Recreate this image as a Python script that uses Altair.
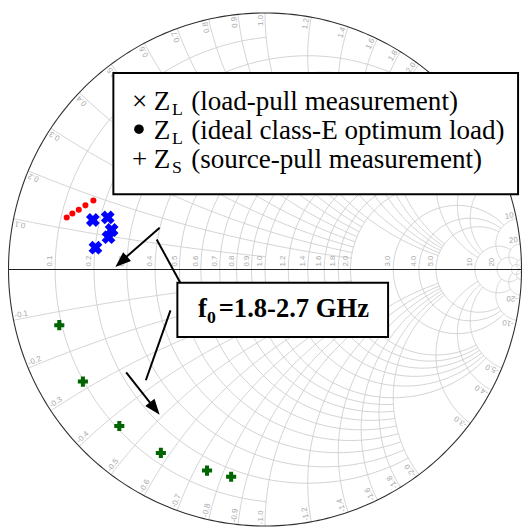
import altair as alt
import numpy as np
import pandas as pd

# ---------------- values ----------------
# Smith-chart grid values (normalised r and x) and how far each circle / arc reaches
grid_values = [0.1, 0.2, 0.3, 0.4, 0.5, 0.6, 0.7, 0.8, 0.9, 1.0,
               1.2, 1.4, 1.6, 1.8, 2.0, 3.0, 4.0, 5.0, 10.0, 20.0, 50.0]
grid_reach = [1, 2, 2, 2, 2, 2, 2, 2, 2, 5,
              5, 5, 5, 5, 5, 10, 10, 10, 20, 50, np.inf]
grid_labels = ["0.1", "0.2", "0.3", "0.4", "0.5", "0.6", "0.7", "0.8", "0.9", "1.0",
               "1.2", "1.4", "1.6", "1.8", "2.0", "3.0", "4.0", "5.0", "10", "20", ""]

# reflection coefficients (real, imaginary)
load_pull_re = [-0.671, -0.613, -0.598, -0.610, -0.661]
load_pull_im = [0.193, 0.203, 0.154, 0.126, 0.085]
ideal_re = [-0.773, -0.751, -0.726, -0.700, -0.669]
ideal_im = [0.203, 0.218, 0.233, 0.250, 0.269]
source_re = [-0.802, -0.710, -0.568, -0.406, -0.226, -0.132]
source_im = [-0.217, -0.437, -0.610, -0.715, -0.784, -0.808]

legend_lines = ["(load-pull measurement)", "(ideal class-E optimum load)",
                "(source-pull measurement)"]
freq_text = "=1.8-2.7 GHz"

# ---------------- geometry ----------------
CX, CY, R = 269.0, 269.5, 260.5   # page pixels of the chart centre / radius
W = H = 522


def gx(px):
    return (px - CX) / R


def gy(py):
    return (CY - py) / R


xs = alt.Scale(domain=[gx(8), gx(8 + W)], nice=False, zero=False)
ys = alt.Scale(domain=[gy(8 + H), gy(8)], nice=False, zero=False)
X = alt.X("re:Q", scale=xs, axis=None)
Y = alt.Y("im:Q", scale=ys, axis=None)

# ---------------- grid ----------------
rows = []
gid = 0
N = 120


def add(re, im):
    global gid
    for i, (a, b) in enumerate(zip(re, im)):
        rows.append({"id": gid, "i": i, "re": float(a), "im": float(b)})
    gid += 1


for v, lim in zip(grid_values, grid_reach):
    bmax = np.pi / 2 * 0.9999 if np.isinf(lim) else np.arctan(lim / (v + 1))
    beta = np.linspace(-bmax, bmax, N)
    phi = np.pi - 2 * beta
    c, rho = v / (1 + v), 1 / (1 + v)
    add(c + rho * np.cos(phi), rho * np.sin(phi))
    for s in (1, -1):
        xv = s * v
        a0 = np.arctan(xv)
        a1 = 0.0 if np.isinf(lim) else np.arctan(xv / (lim + 1))
        al = np.linspace(a0, a1, N)
        g = 1 + 1j / xv - (1j / xv) * np.exp(-2j * al)
        add(g.real, g.imag)

grid_df = pd.DataFrame(rows)
t = np.linspace(0, 2 * np.pi, 361)
bound_df = pd.DataFrame({"re": np.cos(t), "im": np.sin(t), "i": np.arange(361)})
axis_df = pd.DataFrame({"re": [-1.0, 1.0], "im": [0.0, 0.0], "i": [0, 1]})

# ---------------- grid labels ----------------
rlab = []
top_lab, bot_lab = [], []
for v, lbl in zip(grid_values, grid_labels):
    if not lbl:
        continue
    rlab.append({"re": (v - 1) / (v + 1) - 1.0 / R, "im": 3.0 / R, "text": lbl})
    for s in (1, -1):
        xv = s * v
        g = (1j * xv - 1) / (1j * xv + 1)
        th = np.degrees(np.angle(g))
        p = g * (1 - 2.0 / R)
        if s > 0:
            top_lab.append({"re": p.real, "im": p.imag, "text": lbl, "a": (360 - th) % 360})
        else:
            bot_lab.append({"re": p.real, "im": p.imag, "text": "-" + lbl, "a": (180 - th) % 360})

lab_style = dict(font="Liberation Sans", fontSize=8, color="#a8a8a8", baseline="bottom")
grid_layer = alt.Chart(grid_df).mark_line(color="#cdcdcd", strokeWidth=0.9).encode(
    x=X, y=Y, detail="id:N", order="i:Q")
bound_layer = alt.Chart(bound_df).mark_line(color="#303030", strokeWidth=1.1).encode(
    x=X, y=Y, order="i:Q")
axis_layer = alt.Chart(axis_df).mark_line(color="#202020", strokeWidth=1.1).encode(
    x=X, y=Y, order="i:Q")
rlab_layer = alt.Chart(pd.DataFrame(rlab)).mark_text(angle=270, align="left", **lab_style).encode(
    x=X, y=Y, text="text:N")
toplab_layer = alt.Chart(pd.DataFrame(top_lab)).mark_text(align="right", **lab_style).encode(
    x=X, y=Y, text="text:N", angle=alt.Angle("a:Q", scale=None))
botlab_layer = alt.Chart(pd.DataFrame(bot_lab)).mark_text(align="left", **lab_style).encode(
    x=X, y=Y, text="text:N", angle=alt.Angle("a:Q", scale=None))

# ---------------- measured points ----------------
ideal_layer = alt.Chart(pd.DataFrame({"re": ideal_re, "im": ideal_im})).mark_circle(
    size=38, color="#ff0000", opacity=1).encode(x=X, y=Y)
load_layer = alt.Chart(pd.DataFrame({"re": load_pull_re, "im": load_pull_im})).mark_point(
    shape="cross", angle=45, filled=True, size=200, color="#0000ff", opacity=1).encode(x=X, y=Y)
source_layer = alt.Chart(pd.DataFrame({"re": source_re, "im": source_im})).mark_point(
    shape="cross", filled=True, size=105, color="#006400", opacity=1).encode(x=X, y=Y)

# ---------------- annotation boxes ----------------
boxes = pd.DataFrame({"re": [gx(115), gx(180)], "re2": [gx(526), gx(394)],
                      "im": [gy(70), gy(283)], "im2": [gy(193), gy(338)]})
box_layer = alt.Chart(boxes).mark_rect(fill="white", stroke="black", strokeWidth=2).encode(
    x=X, x2="re2:Q", y=Y, y2="im2:Q")

serif = "Liberation Serif"
main_txt = pd.DataFrame({
    "re": [gx(134), gx(156), gx(194), gx(156), gx(194), gx(134), gx(156), gx(194)],
    "im": [gy(108), gy(108), gy(108), gy(137), gy(137), gy(166), gy(166), gy(166)],
    "text": ["\u00d7", "Z", legend_lines[0], "Z", legend_lines[1], "+", "Z", legend_lines[2]]})
sub_txt = pd.DataFrame({"re": [gx(174.5), gx(174.5), gx(174.5)],
                        "im": [gy(113), gy(142), gy(171)], "text": ["L", "L", "S"]})
main_layer = alt.Chart(main_txt).mark_text(font=serif, fontSize=27.5, align="left",
                                           baseline="alphabetic", color="black").encode(
    x=X, y=Y, text="text:N")
sub_layer = alt.Chart(sub_txt).mark_text(font=serif, fontSize=18, align="left",
                                         baseline="alphabetic", color="black").encode(
    x=X, y=Y, text="text:N")
bullet_layer = alt.Chart(pd.DataFrame({"re": [gx(141)], "im": [gy(127)]})).mark_circle(
    size=95, color="black", opacity=1).encode(x=X, y=Y)

f_txt = pd.DataFrame({"re": [gx(201), gx(222)], "im": [gy(318), gy(318)], "text": ["f", freq_text]})
f_layer = alt.Chart(f_txt).mark_text(font=serif, fontSize=27, fontWeight="bold", align="left",
                                     baseline="alphabetic", color="black").encode(
    x=X, y=Y, text="text:N")
f0_layer = alt.Chart(pd.DataFrame({"re": [gx(210)], "im": [gy(324)], "text": ["0"]})).mark_text(
    font=serif, fontSize=18, fontWeight="bold", align="left", baseline="alphabetic",
    color="black").encode(x=X, y=Y, text="text:N")

# ---------------- arrows ----------------
segs = [((162, 227), (121, 263)), ((159, 239), (183, 283)),
        ((173, 311), (148, 382)), ((128, 374), (158, 412))]
seg_df = pd.DataFrame({"re": [gx(a[0]) for a, b in segs], "im": [gy(a[1]) for a, b in segs],
                       "re2": [gx(b[0]) for a, b in segs], "im2": [gy(b[1]) for a, b in segs]})
seg_layer = alt.Chart(seg_df).mark_rule(color="black", strokeWidth=2).encode(
    x=X, y=Y, x2="re2:Q", y2="im2:Q")
heads = [((162, 227), (117, 267)), ((128, 374), (162, 417))]
head_df = pd.DataFrame({
    "re": [gx(b[0]) for a, b in heads], "im": [gy(b[1]) for a, b in heads],
    "a": [float(np.degrees(np.arctan2(b[0] - a[0], -(b[1] - a[1]))) % 360) for a, b in heads]})
head_layer = alt.Chart(head_df).mark_point(
    shape="M0,0L0.75,2L-0.75,2Z", filled=True, size=256, color="black", opacity=1).encode(
    x=X, y=Y, angle=alt.Angle("a:Q", scale=None))

chart = alt.layer(
    grid_layer, axis_layer, bound_layer, rlab_layer, toplab_layer, botlab_layer,
    ideal_layer, load_layer, source_layer,
    box_layer, main_layer, sub_layer, bullet_layer, f_layer, f0_layer,
    seg_layer, head_layer,
).properties(width=W, height=H, padding=0,
             autosize=alt.AutoSizeParams(type="none")).configure_view(stroke=None)

chart.save("out.html", embed_options={"renderer": "svg", "actions": False})
